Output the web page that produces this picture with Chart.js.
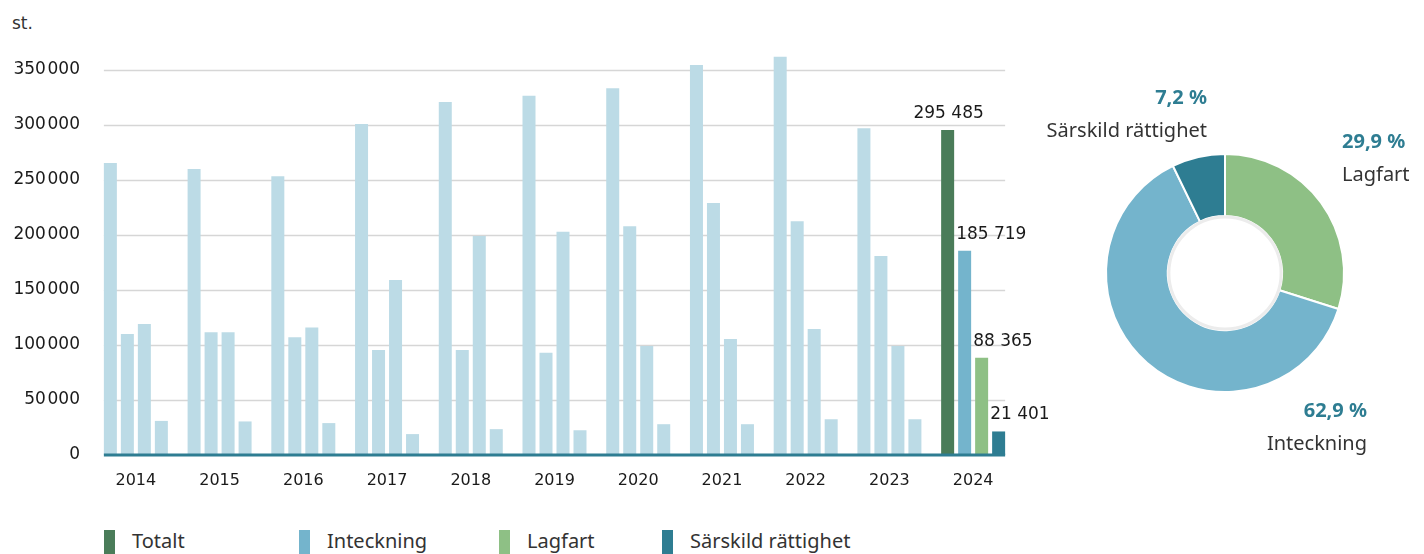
<!DOCTYPE html>
<html lang="sv">
<head>
<meta charset="utf-8">
<title>Inskrivningsärenden</title>
<script src="https://cdn.jsdelivr.net/npm/chart.js@4/dist/chart.umd.min.js"></script>
<style>
  html, body { margin: 0; padding: 0; background: #fff; }
  body { width: 1424px; height: 554px; position: relative; overflow: hidden; }
  #unit { position: absolute; left: 12px; top: 13px; font: 17px "DejaVu Sans", sans-serif; color: #333; }
  #barWrap { position: absolute; left: 0; top: 0; width: 1070px; height: 500px; }
  #donutWrap { position: absolute; left: 1040px; top: 0; width: 384px; height: 554px; }
  .lg { position: absolute; top: 530px; height: 24px; font: 20px "Noto Sans", sans-serif; color: #333; white-space: nowrap; }
  .lg i { position: absolute; left: 0; top: 0; width: 11px; height: 24px; }
  .lg span { position: absolute; left: 28px; top: -3px; }
</style>
</head>
<body>
<div id="unit">st.</div>
<div id="barWrap"><canvas id="barChart"></canvas></div>
<div id="donutWrap"><canvas id="donutChart"></canvas></div>
<div id="legend"></div>

<script>
/* ── Data ── */
const years      = ['2014', '2015', '2016', '2017', '2018', '2019', '2020', '2021', '2022', '2023', '2024'];
const totalt     = [265500, 260000, 253500, 301000, 321000, 326500, 333500, 354500, 362000, 297000, 295485];
const inteckning = [110000, 111500, 107000, 95500, 95500, 93000, 208000, 229000, 212500, 181000, 185719];
const lagfart    = [119000, 111500, 116000, 159000, 199000, 203000, 99000, 105500, 114500, 99000, 88365];
const sarskild   = [31000, 30500, 29000, 19000, 23500, 22500, 28000, 28000, 32500, 32500, 21401];
const yTicks     = [0, 50000, 100000, 150000, 200000, 250000, 300000, 350000];

const shareLabels = ['Lagfart', 'Inteckning', 'Särskild rättighet'];
const shares      = [29.9, 62.9, 7.2];

/* ── Colours ── */
const PALE   = '#bcdbe6';
const GREEN  = '#4a7c59';
const BLUE   = '#74b4cc';
const LIGHTG = '#8ec085';
const TEAL   = '#2e7d92';

const last = years.length - 1;
const colorsFor = c => years.map((_, i) => i === last ? c : PALE);
const fmtSpace = (v, sep) => String(Math.round(v)).replace(/\B(?=(\d{3})+(?!\d))/g, sep);

/* ── Bar chart extras: grid lines, base line, value labels for latest year ── */
function barExtent(chart) {
  const first = chart.getDatasetMeta(0).data[0];
  const end = chart.getDatasetMeta(chart.data.datasets.length - 1).data[last];
  return [first.x - first.width / 2, end.x + end.width / 2];
}

const barExtras = {
  id: 'barExtras',
  beforeDatasetsDraw(chart) {
    const { ctx } = chart;
    const y = chart.scales.y;
    const [x0, x1] = barExtent(chart);
    ctx.save();
    ctx.strokeStyle = '#d6d6d6';
    ctx.lineWidth = 1.5;
    yTicks.forEach(v => {
      if (v === 0) return;
      const py = Math.round(y.getPixelForValue(v)) + 0.5;
      ctx.beginPath();
      ctx.moveTo(x0, py);
      ctx.lineTo(x1, py);
      ctx.stroke();
    });
    ctx.restore();
  },
  afterDatasetsDraw(chart) {
    const { ctx } = chart;
    const y = chart.scales.y;
    const [x0, x1] = barExtent(chart);
    const py = y.getPixelForValue(0);
    ctx.save();
    ctx.strokeStyle = TEAL;
    ctx.lineWidth = 3;
    ctx.beginPath();
    ctx.moveTo(x0, py);
    ctx.lineTo(x1, py);
    ctx.stroke();

    ctx.fillStyle = '#1a1a1a';
    ctx.font = '17px "DejaVu Sans", sans-serif';
    ctx.textBaseline = 'alphabetic';
    chart.data.datasets.forEach((ds, di) => {
      const bar = chart.getDatasetMeta(di).data[last];
      const txt = fmtSpace(ds.data[last], ' ');
      if (di === 0) {
        ctx.textAlign = 'center';
        ctx.fillText(txt, bar.x + 1, bar.y - 12);
      } else {
        ctx.textAlign = 'left';
        ctx.fillText(txt, bar.x - bar.width / 2 - 2, bar.y - 12);
      }
    });
    ctx.restore();
  },
};

new Chart(document.getElementById('barChart'), {
  type: 'bar',
  data: {
    labels: years,
    datasets: [
      { label: 'Totalt',             data: totalt,     backgroundColor: colorsFor(GREEN) },
      { label: 'Inteckning',         data: inteckning, backgroundColor: colorsFor(BLUE) },
      { label: 'Lagfart',            data: lagfart,    backgroundColor: colorsFor(LIGHTG) },
      { label: 'Särskild rättighet', data: sarskild,   backgroundColor: colorsFor(TEAL) },
    ],
  },
  options: {
    responsive: true,
    maintainAspectRatio: false,
    animation: false,
    events: [],
    categoryPercentage: 0.812,
    barPercentage: 0.765,
    layout: { padding: { top: 48, right: 55, left: 0, bottom: 0 } },
    plugins: { legend: { display: false }, tooltip: { enabled: false } },
    scales: {
      x: {
        grid: { display: false, drawTicks: false },
        border: { display: false },
        ticks: { color: '#1a1a1a', font: { family: '"DejaVu Sans"', size: 16 }, padding: 16 },
        afterFit: s => { s.height = 45; },
      },
      y: {
        min: 0,
        max: 370000,
        grid: { display: false, drawTicks: false },
        border: { display: false },
        afterBuildTicks: s => { s.ticks = yTicks.map(v => ({ value: v })); },
        ticks: {
          color: '#1a1a1a',
          font: { family: '"DejaVu Sans"', size: 17 },
          padding: 14,
          autoSkip: false,
          callback: v => fmtSpace(v, '\u200A'),
        },
        afterFit: s => { s.width = 94; },
      },
    },
  },
  plugins: [barExtras],
});

/* ── Donut: share of 2024 ── */
const donutLabelPos = [
  { dx: 117, dy: -131, align: 'left' },
  { dx: 142, dy: 138, align: 'right' },
  { dx: -18, dy: -175, align: 'right' },
];

const donutExtras = {
  id: 'donutExtras',
  afterDatasetsDraw(chart) {
    const { ctx } = chart;
    const arcs = chart.getDatasetMeta(0).data;
    const a0 = arcs[0];
    ctx.save();
    ctx.strokeStyle = '#ececec';
    ctx.lineWidth = 3;
    ctx.beginPath();
    ctx.arc(a0.x, a0.y, a0.innerRadius - 1, 0, Math.PI * 2);
    ctx.stroke();

    ctx.textBaseline = 'middle';
    arcs.forEach((arc, i) => {
      const p = donutLabelPos[i];
      ctx.textAlign = p.align;
      ctx.fillStyle = TEAL;
      ctx.font = 'bold 20px "Noto Sans", sans-serif';
      ctx.fillText(shares[i].toFixed(1).replace('.', ',') + ' %', arc.x + p.dx, arc.y + p.dy);
      ctx.fillStyle = '#333';
      ctx.font = '20px "Noto Sans", sans-serif';
      ctx.fillText(shareLabels[i], arc.x + p.dx, arc.y + p.dy + 33);
    });
    ctx.restore();
  },
};

new Chart(document.getElementById('donutChart'), {
  type: 'doughnut',
  data: {
    labels: shareLabels,
    datasets: [{
      data: shares,
      backgroundColor: [LIGHTG, BLUE, TEAL],
      borderColor: '#fff',
      borderWidth: 2,
    }],
  },
  options: {
    responsive: true,
    maintainAspectRatio: false,
    animation: false,
    events: [],
    cutout: '48%',
    layout: { padding: { left: 65, right: 79, top: 153, bottom: 161 } },
    plugins: { legend: { display: false }, tooltip: { enabled: false } },
  },
  plugins: [donutExtras],
});

/* ── Legend ── */
const legendItems = [
  { text: 'Totalt',             color: GREEN,  left: 104 },
  { text: 'Inteckning',         color: BLUE,   left: 299 },
  { text: 'Lagfart',            color: LIGHTG, left: 499 },
  { text: 'Särskild rättighet', color: TEAL,   left: 662 },
];
const lg = document.getElementById('legend');
legendItems.forEach(l => {
  lg.innerHTML += `<div class="lg" style="left:${l.left}px"><i style="background:${l.color}"></i><span>${l.text}</span></div>`;
});
</script>
</body>
</html>
